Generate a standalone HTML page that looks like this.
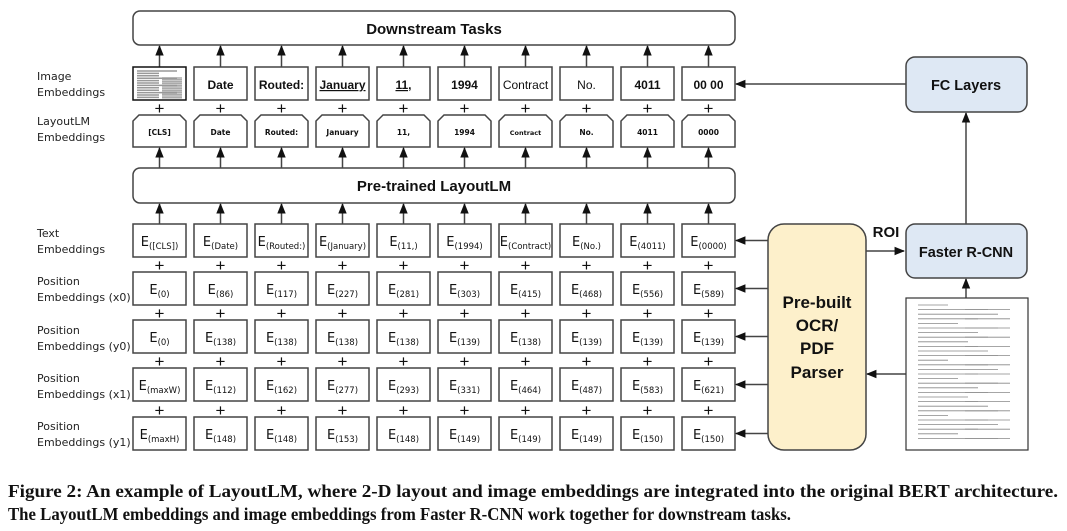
<!DOCTYPE html>
<html><head><meta charset="utf-8"><style>
html,body{margin:0;padding:0;background:#fff}
svg{display:block}
.lb{font-family:"DejaVu Sans","Liberation Sans",sans-serif;font-size:11px;fill:#222}
.bt{font-family:"Liberation Sans",sans-serif;font-weight:bold;text-anchor:middle;fill:#111}
.e{font-family:"DejaVu Sans","Liberation Sans",sans-serif;font-size:13px;text-anchor:middle;fill:#111}
.e tspan.s{font-size:8.5px}
.pl{font-family:"Liberation Sans",sans-serif;font-size:17px;text-anchor:middle;fill:#111}
.sm{font-family:"DejaVu Sans",sans-serif;font-size:7.5px;text-anchor:middle;fill:#111;font-weight:bold}
.cap{font-family:"Liberation Serif",serif;font-weight:bold;font-size:18px;fill:#111}
</style></head><body>
<svg id="s" width="1067" height="531" viewBox="0 0 1067 531" xmlns="http://www.w3.org/2000/svg">
<defs><marker id="a" viewBox="0 0 10 10" refX="9" refY="5" markerWidth="7" markerHeight="7" orient="auto-start-reverse"><path d="M0,1 L10,5 L0,9 z" fill="#111"/></marker></defs>
<g id="g" stroke="#444" stroke-width="1.5" fill="none"></g>

<!-- big boxes -->
<rect x="133" y="11" width="602" height="34" rx="7" fill="#fff" stroke="#444" stroke-width="1.5"/>
<text class="bt" x="434" y="34" font-size="15">Downstream Tasks</text>
<rect x="133" y="168" width="602" height="35" rx="7" fill="#fff" stroke="#444" stroke-width="1.5"/>
<text class="bt" x="434" y="191" font-size="15">Pre-trained LayoutLM</text>
<rect x="768" y="224" width="98" height="226" rx="16" fill="#fdf0cb" stroke="#444" stroke-width="1.5"/>
<text class="bt" font-size="17"><tspan x="817" y="308">Pre-built</tspan><tspan x="817" y="331">OCR/</tspan><tspan x="817" y="354">PDF</tspan><tspan x="817" y="378">Parser</tspan></text>
<rect x="906" y="224" width="121" height="54" rx="9" fill="#dee8f4" stroke="#444" stroke-width="1.5"/>
<text class="bt" x="966" y="257" font-size="14.5">Faster R-CNN</text>
<rect x="906" y="57" width="121" height="55" rx="9" fill="#dee8f4" stroke="#444" stroke-width="1.5"/>
<text class="bt" x="966" y="90" font-size="14.5">FC Layers</text>
<text class="bt" x="886" y="237" font-size="15">ROI</text>
<!-- document -->
<rect x="906" y="298" width="122" height="152" fill="#fff" stroke="#333" stroke-width="1.2"/>
<g id="doc" stroke="#888" stroke-width="0.8"></g>

<!-- row labels -->
<text class="lb"><tspan x="37" y="80">Image</tspan><tspan x="37" y="96">Embeddings</tspan></text>
<text class="lb"><tspan x="37" y="125">LayoutLM</tspan><tspan x="37" y="141">Embeddings</tspan></text>
<text class="lb"><tspan x="37" y="237">Text</tspan><tspan x="37" y="253">Embeddings</tspan></text>
<text class="lb"><tspan x="37" y="285">Position</tspan><tspan x="37" y="301">Embeddings (x0)</tspan></text>
<text class="lb"><tspan x="37" y="334">Position</tspan><tspan x="37" y="350">Embeddings (y0)</tspan></text>
<text class="lb"><tspan x="37" y="382">Position</tspan><tspan x="37" y="398">Embeddings (x1)</tspan></text>
<text class="lb"><tspan x="37" y="430">Position</tspan><tspan x="37" y="446">Embeddings (y1)</tspan></text>

<!-- image embeddings text -->
<g class="bt" font-size="12">
<text x="220.5" y="89">Date</text>
<text x="281.5" y="89">Routed:</text>
<text x="342.5" y="89" text-decoration="underline">January</text>
<text x="403.5" y="89" text-decoration="underline">11,</text>
<text x="464.5" y="89">1994</text>
<text x="525.5" y="89" font-weight="normal">Contract</text>
<text x="586.5" y="89" font-weight="normal">No.</text>
<text x="647.5" y="89">4011</text>
<text x="708.5" y="89">00 00</text>
</g>
<!-- layoutlm text -->
<g class="sm">
<text x="159.5" y="135">[CLS]</text><text x="220.5" y="135">Date</text><text x="281.5" y="135">Routed:</text><text x="342.5" y="135">January</text><text x="403.5" y="135">11,</text><text x="464.5" y="135">1994</text><text x="525.5" y="135" font-size="6.5">Contract</text><text x="586.5" y="135">No.</text><text x="647.5" y="135">4011</text><text x="708.5" y="135">0000</text>
</g>
<!-- pluses -->
<g class="pl">
<text x="159.5" y="114">+</text><text x="220.5" y="114">+</text><text x="281.5" y="114">+</text><text x="342.5" y="114">+</text><text x="403.5" y="114">+</text><text x="464.5" y="114">+</text><text x="525.5" y="114">+</text><text x="586.5" y="114">+</text><text x="647.5" y="114">+</text><text x="708.5" y="114">+</text>
<text x="159.5" y="271">+</text><text x="220.5" y="271">+</text><text x="281.5" y="271">+</text><text x="342.5" y="271">+</text><text x="403.5" y="271">+</text><text x="464.5" y="271">+</text><text x="525.5" y="271">+</text><text x="586.5" y="271">+</text><text x="647.5" y="271">+</text><text x="708.5" y="271">+</text>
<text x="159.5" y="319">+</text><text x="220.5" y="319">+</text><text x="281.5" y="319">+</text><text x="342.5" y="319">+</text><text x="403.5" y="319">+</text><text x="464.5" y="319">+</text><text x="525.5" y="319">+</text><text x="586.5" y="319">+</text><text x="647.5" y="319">+</text><text x="708.5" y="319">+</text>
<text x="159.5" y="367">+</text><text x="220.5" y="367">+</text><text x="281.5" y="367">+</text><text x="342.5" y="367">+</text><text x="403.5" y="367">+</text><text x="464.5" y="367">+</text><text x="525.5" y="367">+</text><text x="586.5" y="367">+</text><text x="647.5" y="367">+</text><text x="708.5" y="367">+</text>
<text x="159.5" y="416">+</text><text x="220.5" y="416">+</text><text x="281.5" y="416">+</text><text x="342.5" y="416">+</text><text x="403.5" y="416">+</text><text x="464.5" y="416">+</text><text x="525.5" y="416">+</text><text x="586.5" y="416">+</text><text x="647.5" y="416">+</text><text x="708.5" y="416">+</text>
</g>
<!-- E rows -->
<g class="e">
<text x="159.5" y="246">E<tspan class="s" dy="3">([CLS])</tspan></text>
<text x="220.5" y="246">E<tspan class="s" dy="3">(Date)</tspan></text>
<text x="281.5" y="246">E<tspan class="s" dy="3" font-size="7">(Routed:)</tspan></text>
<text x="342.5" y="246">E<tspan class="s" dy="3" font-size="7">(January)</tspan></text>
<text x="403.5" y="246">E<tspan class="s" dy="3">(11,)</tspan></text>
<text x="464.5" y="246">E<tspan class="s" dy="3">(1994)</tspan></text>
<text x="525.5" y="246">E<tspan class="s" dy="3" font-size="7">(Contract)</tspan></text>
<text x="586.5" y="246">E<tspan class="s" dy="3">(No.)</tspan></text>
<text x="647.5" y="246">E<tspan class="s" dy="3">(4011)</tspan></text>
<text x="708.5" y="246">E<tspan class="s" dy="3">(0000)</tspan></text>

<text x="159.5" y="294">E<tspan class="s" dy="3">(0)</tspan></text>
<text x="220.5" y="294">E<tspan class="s" dy="3">(86)</tspan></text>
<text x="281.5" y="294">E<tspan class="s" dy="3">(117)</tspan></text>
<text x="342.5" y="294">E<tspan class="s" dy="3">(227)</tspan></text>
<text x="403.5" y="294">E<tspan class="s" dy="3">(281)</tspan></text>
<text x="464.5" y="294">E<tspan class="s" dy="3">(303)</tspan></text>
<text x="525.5" y="294">E<tspan class="s" dy="3">(415)</tspan></text>
<text x="586.5" y="294">E<tspan class="s" dy="3">(468)</tspan></text>
<text x="647.5" y="294">E<tspan class="s" dy="3">(556)</tspan></text>
<text x="708.5" y="294">E<tspan class="s" dy="3">(589)</tspan></text>

<text x="159.5" y="342">E<tspan class="s" dy="3">(0)</tspan></text>
<text x="220.5" y="342">E<tspan class="s" dy="3">(138)</tspan></text>
<text x="281.5" y="342">E<tspan class="s" dy="3">(138)</tspan></text>
<text x="342.5" y="342">E<tspan class="s" dy="3">(138)</tspan></text>
<text x="403.5" y="342">E<tspan class="s" dy="3">(138)</tspan></text>
<text x="464.5" y="342">E<tspan class="s" dy="3">(139)</tspan></text>
<text x="525.5" y="342">E<tspan class="s" dy="3">(138)</tspan></text>
<text x="586.5" y="342">E<tspan class="s" dy="3">(139)</tspan></text>
<text x="647.5" y="342">E<tspan class="s" dy="3">(139)</tspan></text>
<text x="708.5" y="342">E<tspan class="s" dy="3">(139)</tspan></text>

<text x="159.5" y="390">E<tspan class="s" dy="3">(maxW)</tspan></text>
<text x="220.5" y="390">E<tspan class="s" dy="3">(112)</tspan></text>
<text x="281.5" y="390">E<tspan class="s" dy="3">(162)</tspan></text>
<text x="342.5" y="390">E<tspan class="s" dy="3">(277)</tspan></text>
<text x="403.5" y="390">E<tspan class="s" dy="3">(293)</tspan></text>
<text x="464.5" y="390">E<tspan class="s" dy="3">(331)</tspan></text>
<text x="525.5" y="390">E<tspan class="s" dy="3">(464)</tspan></text>
<text x="586.5" y="390">E<tspan class="s" dy="3">(487)</tspan></text>
<text x="647.5" y="390">E<tspan class="s" dy="3">(583)</tspan></text>
<text x="708.5" y="390">E<tspan class="s" dy="3">(621)</tspan></text>

<text x="159.5" y="439">E<tspan class="s" dy="3">(maxH)</tspan></text>
<text x="220.5" y="439">E<tspan class="s" dy="3">(148)</tspan></text>
<text x="281.5" y="439">E<tspan class="s" dy="3">(148)</tspan></text>
<text x="342.5" y="439">E<tspan class="s" dy="3">(153)</tspan></text>
<text x="403.5" y="439">E<tspan class="s" dy="3">(148)</tspan></text>
<text x="464.5" y="439">E<tspan class="s" dy="3">(149)</tspan></text>
<text x="525.5" y="439">E<tspan class="s" dy="3">(149)</tspan></text>
<text x="586.5" y="439">E<tspan class="s" dy="3">(149)</tspan></text>
<text x="647.5" y="439">E<tspan class="s" dy="3">(150)</tspan></text>
<text x="708.5" y="439">E<tspan class="s" dy="3">(150)</tspan></text>
</g>

<text class="cap" x="8" y="497" textLength="1050" lengthAdjust="spacingAndGlyphs">Figure 2: An example of LayoutLM, where 2-D layout and image embeddings are integrated into the original BERT architecture.</text>
<text class="cap" x="8" y="520" textLength="783" lengthAdjust="spacingAndGlyphs">The LayoutLM embeddings and image embeddings from Faster R-CNN work together for downstream tasks.</text>
</svg>
<script>
var g=document.getElementById('g'),NS="http://www.w3.org/2000/svg";
function el(t,a,p){var e=document.createElementNS(NS,t);for(var k in a)e.setAttribute(k,a[k]);(p||g).appendChild(e);return e;}
function arr(x1,y1,x2,y2){el('line',{x1:x1,y1:y1,x2:x2,y2:y2,'marker-end':'url(#a)'});}
for(var i=0;i<10;i++){
 var x=133+61*i,cx=x+26.5;
 if(i>0) el('rect',{x:x,y:67,width:53,height:33,fill:'#fff'});
 el('path',{d:'M'+(x+6)+' 115 H'+(x+47)+' L'+(x+53)+' 121 V147 H'+x+' V121 Z',fill:'#fff'});
 [224,272,320,368,417].forEach(function(y){el('rect',{x:x,y:y,width:53,height:33,fill:'#fff'});});
 arr(cx,67,cx,46);arr(cx,168,cx,148);arr(cx,224,cx,204);
}
el('rect',{x:133,y:67,width:53,height:33,fill:'#fff',stroke:'#111'});
var d=document.getElementById('doc');
for(var j=0;j<12;j++){el('line',{x1:137,y1:71+j*2.4,x2:137+(j%3==0?40:22),y2:71+j*2.4},g).setAttribute('stroke','#999');el('line',{x1:162,y1:78+j*1.8,x2:182,y2:78+j*1.8},g).setAttribute('stroke','#aaa');}
[240.5,288.5,336.5,384.5,433.5].forEach(function(y){arr(768,y,736,y);});
arr(866,251,904,251);
arr(906,374,867,374);
arr(966,298,966,279);
arr(966,224,966,113);
arr(906,84,736,84);
for(var k=0;k<30;k++){var y=305+k*4.6;el('line',{x1:918,y1:y,x2:918+(k%4==0?30:60)+(k%3)*10,y2:y},d);if(k%2)el('line',{x1:965,y1:y,x2:1010,y2:y},d);}
</script>
</body></html>
